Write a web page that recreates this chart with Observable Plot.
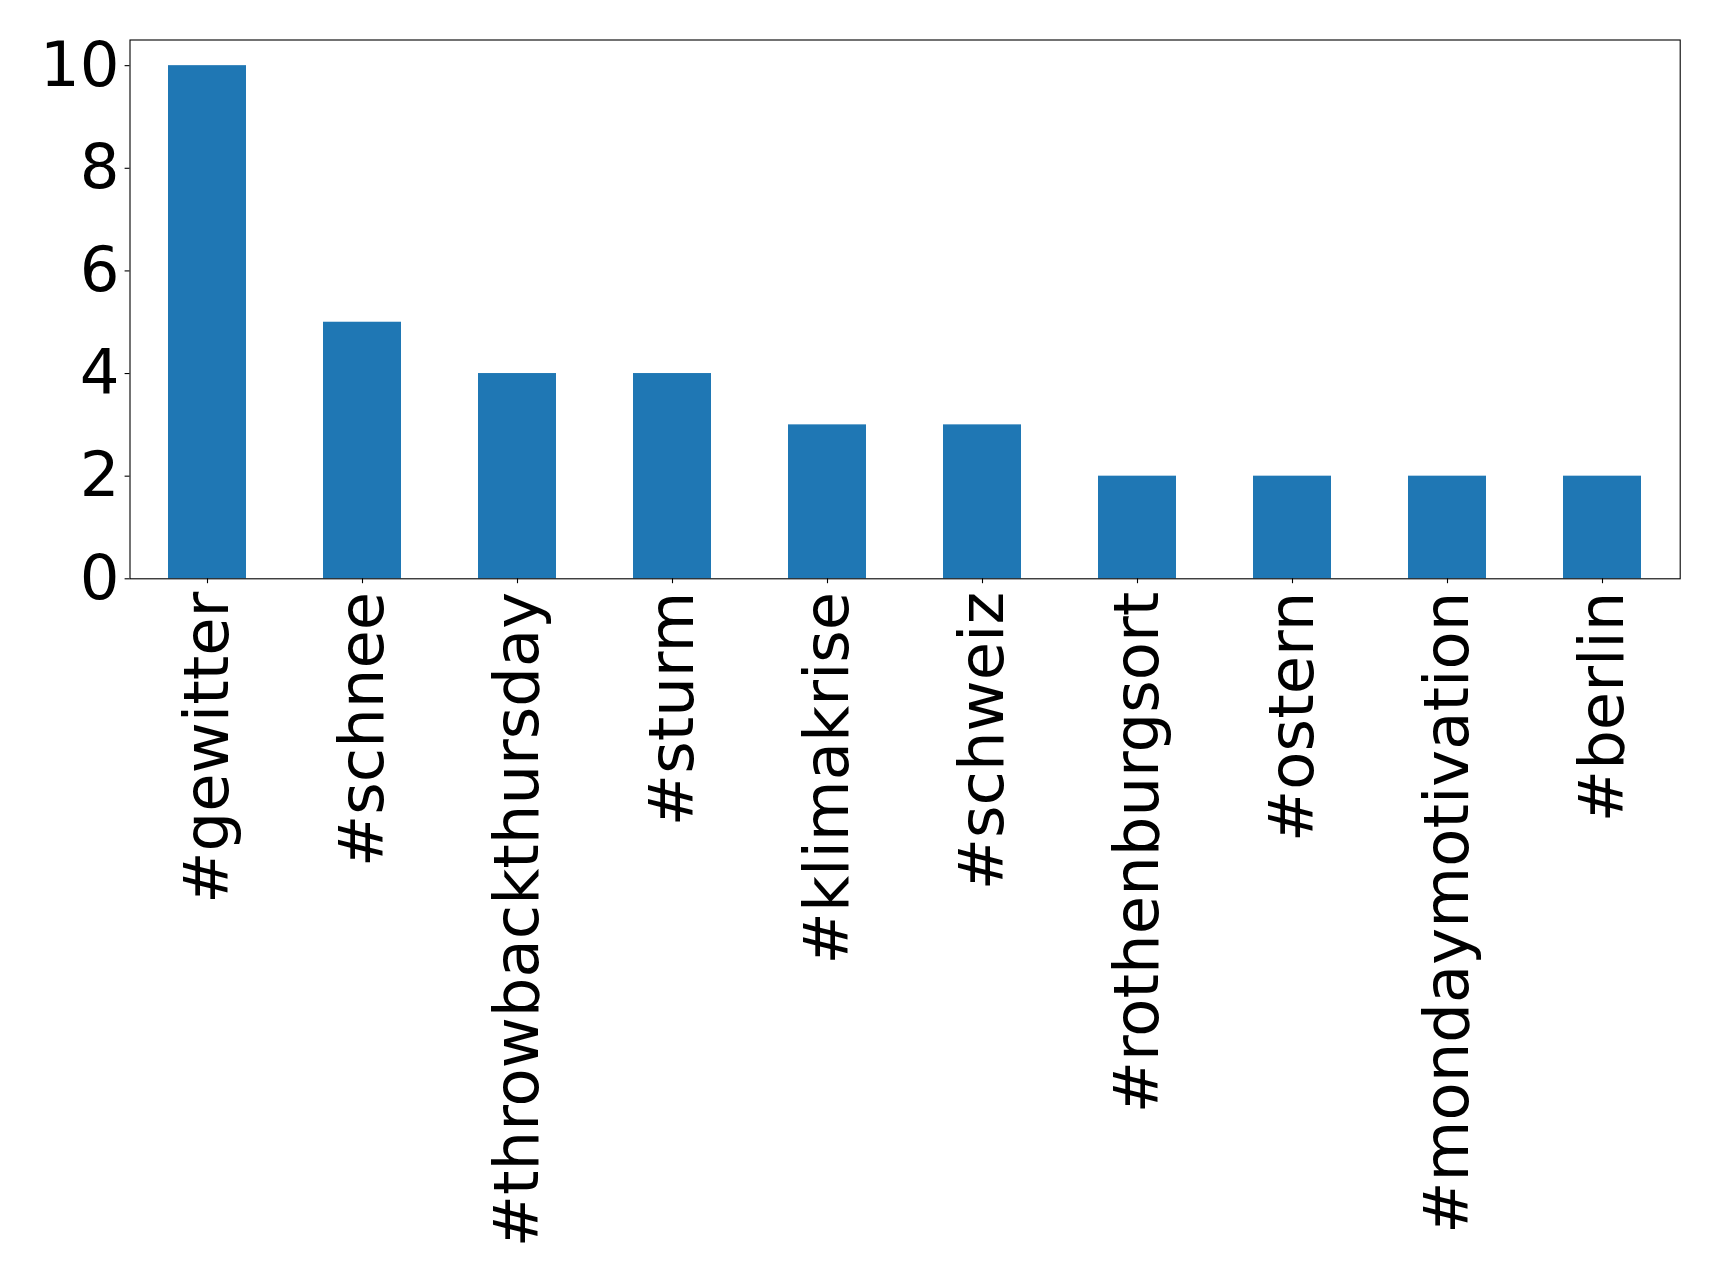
<!DOCTYPE html>
<html>
<head>
<meta charset="utf-8">
<script src="https://cdn.jsdelivr.net/npm/d3@7"></script>
<script src="https://cdn.jsdelivr.net/npm/@observablehq/plot@0.6"></script>
<style>
  html, body { margin: 0; padding: 0; background: #fff; }
  #chart svg { display: block; }
</style>
</head>
<body>
<div id="chart"></div>
<script>
const hashtags = ["#gewitter", "#schnee", "#throwbackthursday", "#sturm", "#klimakrise", "#schweiz", "#rothenburgsort", "#ostern", "#mondaymotivation", "#berlin"];
const counts = [10, 5, 4, 4, 3, 3, 2, 2, 2, 2];
const yTicks = [0, 2, 4, 6, 8, 10];

const data = hashtags.map((h, i) => ({tag: h, count: counts[i]}));

const chart = Plot.plot({
  width: 1719,
  height: 1283,
  marginLeft: 129.5,
  marginRight: 39.3,
  marginTop: 39.5,
  marginBottom: 704.7,
  style: {fontFamily: "DejaVu Sans", color: "black", background: "white"},
  x: {domain: hashtags, paddingInner: 0.5, paddingOuter: 0.25, label: null},
  y: {domain: [0, 10.5], label: null},
  marks: [
    Plot.barY(data, {x: "tag", y: "count", fill: "#1f77b4"}),
    Plot.frame({stroke: "black", strokeWidth: 1.1}),
    Plot.axisY({ticks: yTicks, tickSize: 4.9, tickPadding: 5.5, fontSize: 62.5, label: null, tickFormat: d3.format("d"), strokeWidth: 1.1}),
    Plot.axisX({tickSize: 4.9, tickPadding: 8, tickRotate: -90, fontSize: 62.5, label: null, strokeWidth: 1.1})
  ]
});
document.getElementById("chart").appendChild(chart);
</script>
</body>
</html>
